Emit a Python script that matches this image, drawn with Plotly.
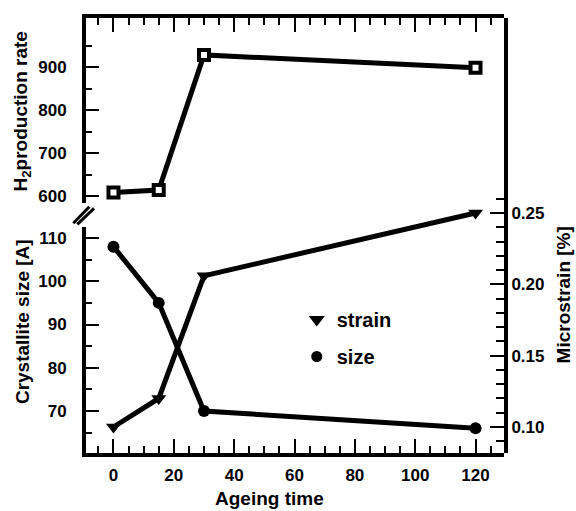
import plotly.graph_objects as go

# ---- data ----
ageing_time = [0, 15, 30, 120]
h2_rate = [608, 614, 928, 898]
cryst_size = [108, 95, 70, 66]
microstrain = [0.10, 0.12, 0.206, 0.25]

x_ticks = [0, 20, 40, 60, 80, 100, 120]
h2_ticks = [600, 700, 800, 900]
size_ticks = [70, 80, 90, 100, 110]
strain_ticks = [0.10, 0.15, 0.20, 0.25]
strain_ticktext = ["0.10", "0.15", "0.20", "0.25"]

# ---- layout geometry (pixels) ----
W, H = 576, 511
L, R, T, B = 86, 504.5, 18, 453
PW, PH = R - L, B - T

def px(x):
    return (x - L) / PW

def py(y):
    return (B - y) / PH

FONT = "Liberation Sans, Arial, Helvetica, sans-serif"
BLACK = "black"

fig = go.Figure()

fig.add_trace(go.Scatter(
    x=ageing_time, y=h2_rate, xaxis="x2", yaxis="y2", mode="lines+markers",
    line=dict(color=BLACK, width=5),
    marker=dict(symbol="square", size=10, color="white", line=dict(color=BLACK, width=4)),
    showlegend=False))

fig.add_trace(go.Scatter(
    x=ageing_time, y=cryst_size, xaxis="x", yaxis="y", mode="lines+markers",
    line=dict(color=BLACK, width=5),
    marker=dict(symbol="circle", size=12, color=BLACK),
    showlegend=False))

fig.add_trace(go.Scatter(
    x=ageing_time, y=microstrain, xaxis="x", yaxis="y3", mode="lines+markers",
    line=dict(color=BLACK, width=5),
    marker=dict(symbol="triangle-down", size=13, color=BLACK),
    showlegend=False))

# legend entries
fig.add_trace(go.Scatter(x=[None], y=[None], mode="markers", name="strain",
                         marker=dict(symbol="triangle-down", size=14, color=BLACK),
                         legendgroup="a", showlegend=True))
fig.add_trace(go.Scatter(x=[None], y=[None], mode="markers", name="size",
                         marker=dict(symbol="circle", size=11, color=BLACK),
                         legendgroup="b", showlegend=True))

x_minor = [v for v in range(-5, 130, 5) if v not in x_ticks]
tickfont = dict(family=FONT, size=17, color=BLACK, weight="bold")

common_x = dict(
    range=[(L - 113.5) / 3.0208, (R - 113.5) / 3.0208],
    showline=True, linewidth=4, linecolor=BLACK,
    ticks="inside", tickvals=x_ticks, ticklen=14, tickwidth=2, tickcolor=BLACK,
    minor=dict(tickmode="array", tickvals=x_minor, ticklen=7, tickwidth=2, tickcolor=BLACK, ticks="inside"),
    showgrid=False, zeroline=False, tickfont=tickfont,
)

fig.update_layout(
    width=W, height=H,
    margin=dict(l=L, r=W - R, t=T, b=H - B, pad=0),
    paper_bgcolor="white", plot_bgcolor="rgba(0,0,0,0)",
    font=dict(family=FONT, color=BLACK, weight="bold"),
    xaxis=dict(common_x, domain=[0, 1], anchor="y", side="bottom", ticklabelstandoff=4),
    xaxis2=dict(common_x, domain=[0, 1], anchor="y2", side="top", matches="x", showticklabels=False),
    yaxis=dict(
        domain=[0, py(227)], anchor="x",
        range=[70 - (B - 411) / 4.325, 110 + (238 - 227) / 4.325],
        showline=True, linewidth=4, linecolor=BLACK,
        ticks="inside", tickvals=size_ticks, ticklen=13, tickwidth=2, tickcolor=BLACK,
        minor=dict(tickmode="array", tickvals=[65, 75, 85, 95, 105], ticklen=6, tickwidth=2, tickcolor=BLACK, ticks="inside"),
        showgrid=False, zeroline=False, tickfont=tickfont, ticklabelstandoff=12),
    yaxis2=dict(
        domain=[py(203), 1], anchor="x2",
        range=[600 - (203 - 196) / 0.43, 900 + (67 - T) / 0.43],
        showline=True, linewidth=4, linecolor=BLACK,
        ticks="inside", tickvals=h2_ticks, ticklen=13, tickwidth=2, tickcolor=BLACK,
        minor=dict(tickmode="array", tickvals=[650, 750, 850, 950], ticklen=6, tickwidth=2, tickcolor=BLACK, ticks="inside"),
        showgrid=False, zeroline=False, tickfont=tickfont, ticklabelstandoff=12),
    yaxis3=dict(
        domain=[0, 1], anchor="x", side="right",
        range=[0.10 - (B - 427) / 1426.7, 0.25 + (213 - T) / 1426.7],
        showline=True, linewidth=4, linecolor=BLACK,
        ticks="inside", tickvals=strain_ticks, ticktext=strain_ticktext, ticklen=14, tickwidth=2, tickcolor=BLACK,
        minor=dict(tickmode="array",
                   tickvals=[0.09, 0.11, 0.12, 0.13, 0.14, 0.16, 0.17, 0.18, 0.19, 0.21, 0.22, 0.23, 0.24, 0.26],
                   ticklen=8, tickwidth=2, tickcolor=BLACK, ticks="inside"),
        showgrid=False, zeroline=False, tickfont=tickfont, ticklabelstandoff=0),
    legend=dict(x=px(297), y=py(300), xanchor="left", yanchor="top",
                font=dict(family=FONT, size=20, color=BLACK, weight="bold"),
                bgcolor="rgba(0,0,0,0)", tracegroupgap=8, traceorder="grouped"),
)

title_font = dict(family=FONT, size=19, color=BLACK, weight="bold")
annos = [
    ("H<sub>2</sub>production rate", 22, 111.5, -90),
    ("Crystallite size [A]", 22, 322, -90),
    ("Microstrain [%]", 564, 295, -90),
    ("Ageing time", 270, 498, 0),
]
for text, ax_, ay_, ang in annos:
    fig.add_annotation(text=text, x=px(ax_), y=py(ay_), xref="paper", yref="paper",
                       xanchor="center", yanchor="middle", showarrow=False,
                       textangle=ang, font=title_font)

# axis-break marks
for (x0, y0, x1, y1) in [(73.3, 223.3, 89.3, 206.7), (77.3, 224.3, 94, 208.3)]:
    fig.add_shape(type="line", xref="paper", yref="paper",
                  x0=px(x0), y0=py(y0), x1=px(x1), y1=py(y1),
                  line=dict(color=BLACK, width=3))

fig.write_html("out.html", config={"displayModeBar": False},
               post_script="document.body.style.margin='0';document.body.style.overflow='hidden';")
